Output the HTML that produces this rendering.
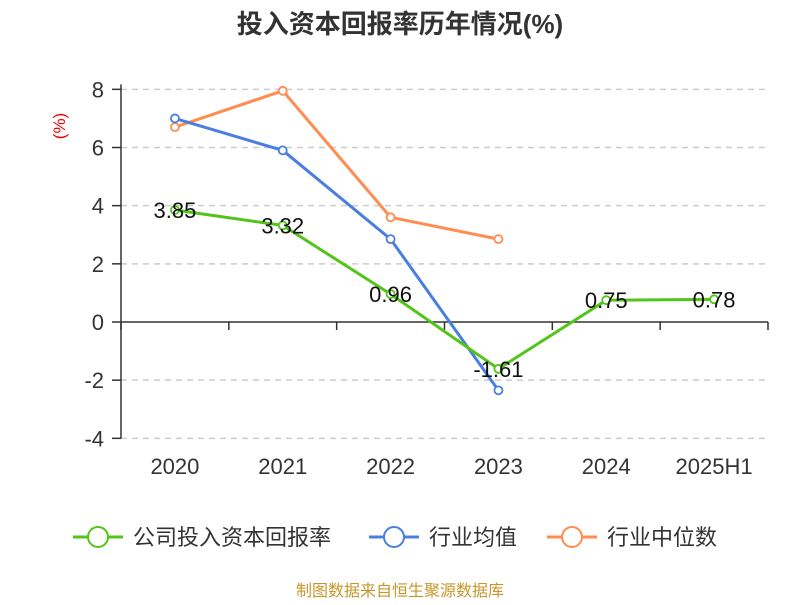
<!DOCTYPE html>
<html><head><meta charset="utf-8"><style>
body{margin:0;background:#fff;}
svg text{font-family:"Liberation Sans","Noto Sans CJK SC",sans-serif;}
</style></head><body>
<svg id="c" width="800" height="600">
<text x="400" y="33" text-anchor="middle" font-size="26" font-weight="bold" fill="#333">投入资本回报率历年情况(%)</text>
<text x="0" y="0" transform="translate(65,126) rotate(-90)" text-anchor="middle" font-size="17" fill="#e00">(%)</text>
<g id="grid"></g><g id="axes"></g><g id="series"></g>
<g id="legend"></g>
<text x="400" y="596" text-anchor="middle" font-size="16" fill="#c8962a">制图数据来自恒生聚源数据库</text>
</svg>
<script>
const categories=["2020","2021","2022","2023","2024","2025H1"];
const company=[3.85,3.32,0.96,-1.61,0.75,0.78];
const industryAvg=[7.0,5.9,2.85,-2.35,null,null];
const industryMedian=[6.7,7.95,3.6,2.85,null,null];
const yTicks=[-4,-2,0,2,4,6,8];
const seriesNames=["公司投入资本回报率","行业均值","行业中位数"];
const colors=["#52c41a","#4a7fe0","#ff8c50"];
const NS="http://www.w3.org/2000/svg";
const x0=121,x1=768,bw=(x1-x0)/categories.length;
const xs=i=>x0+bw*(i+0.5);
const ys=v=>322-v*(349/12);
function mk(tag,attrs,parent){const e=document.createElementNS(NS,tag);for(const k in attrs)e.setAttribute(k,attrs[k]);document.getElementById(parent).appendChild(e);return e;}
yTicks.forEach(t=>{
  if(t!==0){const g=mk("line",{x1:x0,x2:x1,y1:ys(t),y2:ys(t),stroke:"#ccc","stroke-dasharray":"6,5","stroke-width":1.5},"grid");
  
  }
  const tk=mk("line",{x1:112,x2:x0,y1:ys(t),y2:ys(t),stroke:"#333","stroke-width":1.5},"axes");
  
  
  const l=mk("text",{x:104,y:ys(t)+8,"text-anchor":"end","font-size":22,fill:"#333"},"axes");l.textContent=t;
  
  
});
const ya=mk("line",{x1:x0,x2:x0,y1:ys(8)-5,y2:ys(-4),stroke:"#333","stroke-width":1.5},"axes");


const xa=mk("line",{x1:x0,x2:x1,y1:ys(0),y2:ys(0),stroke:"#333","stroke-width":1.5},"axes");


for(let i=0;i<=categories.length;i++){const t=mk("line",{x1:x0+bw*i,x2:x0+bw*i,y1:ys(0),y2:ys(0)+8,stroke:"#333","stroke-width":1.5},"axes");

}
categories.forEach((c,i)=>{const l=mk("text",{x:xs(i),y:474,"text-anchor":"middle","font-size":22,fill:"#333"},"axes");l.textContent=c;

});
function draw(data,color,name){
  const pts=data.map((v,i)=>v==null?null:[xs(i),ys(v)]).filter(p=>p);
  const p=mk("polyline",{points:pts.map(p=>p.join(",")).join(" "),fill:"none",stroke:color,"stroke-width":3},"series");
  
  
  data.forEach((v,i)=>{if(v==null)return;
    const c=mk("circle",{cx:xs(i),cy:ys(v),r:4,fill:"#fff",stroke:color,"stroke-width":1.8},"series");
    
    
  });
}
draw(industryMedian,colors[2],"industry-median");
draw(industryAvg,colors[1],"industry-average");
draw(company,colors[0],"company");
company.forEach((v,i)=>{const l=mk("text",{x:xs(i),y:ys(v)+8,"text-anchor":"middle","font-size":22,fill:"#111"},"series");l.textContent=v.toFixed(2);

});
const lx=[73,369,547];
seriesNames.forEach((n,i)=>{
  const ln=mk("line",{x1:lx[i],x2:lx[i]+50,y1:537,y2:537,stroke:colors[i],"stroke-width":3},"legend");
  
  
  const c=mk("circle",{cx:lx[i]+25,cy:537,r:10,fill:"#fff",stroke:colors[i],"stroke-width":2},"legend");
  
  
  const t=mk("text",{x:lx[i]+60,y:545,"font-size":22,fill:"#333"},"legend");t.textContent=n;
  
  
});
</script>
</body></html>
